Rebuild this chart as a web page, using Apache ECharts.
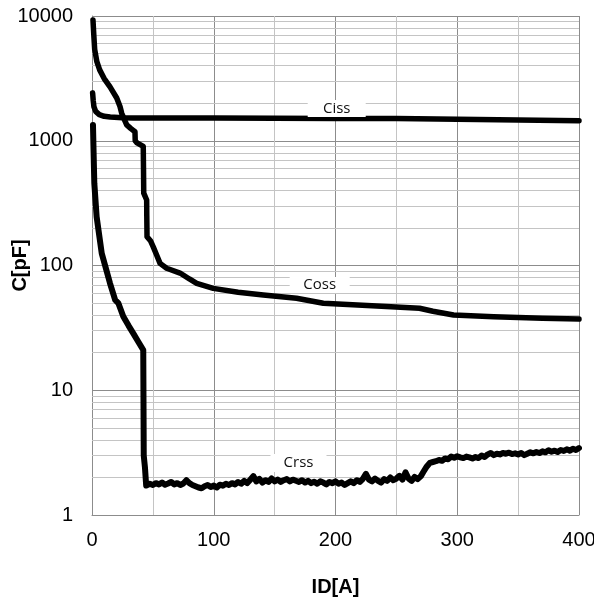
<!DOCTYPE html>
<html>
<head>
<meta charset="utf-8">
<script src="https://cdn.jsdelivr.net/npm/echarts@6/dist/echarts.min.js"></script>
<style>
html,body{margin:0;padding:0;background:#fff;}
#chart{width:594px;height:604px;}
</style>
</head>
<body>
<div id="chart"></div>
<script>
// ---- data ----
const xTicks = [0, 100, 200, 300, 400];
const yTicks = [1, 10, 100, 1000, 10000];
const minorGridValues = [2,3,4,5,6,7,8,9,20,30,40,50,60,70,80,90,200,300,400,500,600,700,800,900,2000,3000,4000,5000,6000,7000,8000,9000];

const ciss = [[0.5,2420],[1,2100],[1.6,1870],[3,1720],[6,1620],[10,1570],[15,1550],[25,1530],[34,1525],[100,1520],[200,1510],[250,1505],[300,1490],[350,1470],[400,1445]];

const coss = [[0.8,9300],[1.5,7000],[2.2,5400],[4,4300],[6.3,3700],[10,3150],[14.8,2700],[20.3,2200],[23,1880],[24.4,1660],[28.5,1340],[32,1250],[35.3,1180],[35.5,1000],[37,960],[42.1,900],[42.3,600],[42.5,380],[44.9,335],[45,250],[45.2,170],[48,158],[50.3,141],[53,122],[55.9,104],[61.3,95],[72.3,87],[80,78],[86,72],[99.6,65.6],[120,61],[140.7,58],[168,54.6],[190,49.8],[230,47.5],[269,45.4],[280,43],[297,40.1],[330,38.8],[370,37.8],[400,37.2]];

const crss = [[0.8,1340],[1.2,900],[1.9,456],[3.8,246],[8,125],[14.8,72],[19,53],[21.6,50],[25.7,39],[30,33],[33.9,28.6],[38,24.5],[42.1,21],[42.5,3],[43.5,2.4],[44.5,1.72],
[45,1.72],[47.5,1.78],[50,1.74],[52.5,1.80],[55,1.76],[57.5,1.82],[60,1.75],[62.5,1.79],[65,1.84],[67.5,1.76],[70,1.80],[72.5,1.74],[75,1.79],[77.5,1.90],[80,1.80],[82.5,1.74],[85,1.70],[87.5,1.66],[90,1.64],[92.5,1.70],[95,1.74],[97.5,1.68],
[100,1.72],[102.5,1.66],[105,1.75],[107.5,1.72],[110,1.78],[112.5,1.74],[115,1.80],[117.5,1.76],[120,1.84],[122.5,1.78],[125,1.88],[127.5,1.80],[130,1.92],[132.5,2.05],[135,1.86],[137.5,1.95],[140,1.82],[142.5,1.90],[145,1.84],[147.5,1.96],
[150,1.86],[152.5,1.92],[155,1.84],[157.5,1.90],[160,1.94],[162.5,1.86],[165,1.92],[167.5,1.88],[170,1.84],[172.5,1.90],[175,1.82],[177.5,1.88],[180,1.80],[182.5,1.85],[185,1.78],[187.5,1.86],[190,1.82],[192.5,1.76],[195,1.84],[197.5,1.80],
[200,1.86],[202.5,1.78],[205,1.82],[207.5,1.74],[210,1.80],[212.5,1.86],[215,1.80],[217.5,1.90],[220,1.84],[222.5,1.95],[225,2.14],[227.5,1.92],[230,1.86],[232.5,1.96],[235,1.88],[237.5,1.82],[240,1.94],[242.5,1.88],[245,2.00],[247.5,1.90],
[250,1.96],[252.5,2.06],[255,1.92],[257.5,2.20],[260,1.96],[262.5,1.88],[265,2.02],[267.5,1.94],[270,2.04],[272.5,2.24],[275,2.45],[277.5,2.62],[280,2.66],[282.5,2.70],[285,2.76],[287.5,2.72],[290,2.84],[292.5,2.80],[295,2.94],[297.5,2.88],
[300,2.96],[302.5,2.90],[305,2.86],[307.5,2.94],[310,2.90],[312.5,2.84],[315,2.92],[317.5,2.86],[320,3.00],[322.5,2.92],[325,3.06],[327.5,3.14],[330,3.02],[332.5,3.10],[335,3.06],[337.5,3.14],[340,3.10],[342.5,3.16],[345,3.08],[347.5,3.12],
[350,3.06],[352.5,3.14],[355,3.02],[357.5,3.10],[360,3.18],[362.5,3.12],[365,3.20],[367.5,3.14],[370,3.24],[372.5,3.18],[375,3.30],[377.5,3.22],[380,3.28],[382.5,3.20],[385,3.32],[387.5,3.26],[390,3.36],[392.5,3.28],[395,3.40],[397.5,3.32],[400,3.44]];

const curveLabels = [
  {name:'Ciss', coord:[201, 1814], size:[58,17]},
  {name:'Coss', coord:[187, 69.8], size:[60,16]},
  {name:'Crss', coord:[169.6, 2.61], size:[56,18]}
];

// ---- chart ----
const FONT = '"Liberation Sans", Arial, sans-serif';
const LABEL_FONT = '"Open Sans", "Noto Sans", sans-serif';
const chart = echarts.init(document.getElementById('chart'), null, {renderer:'canvas'});

function labelMark(l){
  return {
    silent:true, z:6,
    symbol:'rect', symbolSize:l.size,
    itemStyle:{color:'#ffffff'},
    label:{show:true, position:'inside', formatter:l.name, color:'#111', fontFamily:LABEL_FONT, fontSize:15},
    data:[{coord:l.coord}]
  };
}

function lineSeries(name, data, width, mark){
  return {
    name:name, type:'line', data:data, showSymbol:false, symbol:'none', smooth:false,
    lineStyle:{color:'#000', width:width, join:'round', cap:'round'},
    z:3, animation:false, markPoint:mark
  };
}

chart.setOption({
  animation:false,
  backgroundColor:'#fff',
  grid:{left:92, right:15, top:16, bottom:89, containLabel:false, outerBoundsMode:'none'},
  xAxis:{
    type:'value', min:0, max:400, interval:50,
    name:'ID[A]', nameLocation:'middle', nameGap:62, nameMoveOverlap:false,
    nameTextStyle:{fontFamily:FONT, fontSize:20, fontWeight:'bold', color:'#000'},
    axisLine:{show:true, lineStyle:{color:'#8c8c8c', width:1}},
    axisTick:{show:false},
    axisLabel:{margin:15, fontFamily:FONT, fontSize:20, color:'#000',
      formatter:v => xTicks.indexOf(v) >= 0 ? String(v) : ''},
    splitLine:{show:true, lineStyle:{color:['#8c8c8c','#c4c4c4'], width:1}}
  },
  yAxis:{
    type:'log', logBase:10, min:1, max:10000,
    name:'C[pF]', nameLocation:'middle', nameGap:62, nameMoveOverlap:false,
    nameTextStyle:{fontFamily:FONT, fontSize:20, fontWeight:'bold', color:'#000'},
    axisLine:{show:true, lineStyle:{color:'#8c8c8c', width:1}},
    axisTick:{show:false},
    axisLabel:{margin:19, fontFamily:FONT, fontSize:20, color:'#000',
      formatter:v => yTicks.indexOf(Math.round(v)) >= 0 ? String(Math.round(v)) : ''},
    splitLine:{show:true, lineStyle:{color:'#8c8c8c', width:1}}
  },
  series:[
    {
      name:'grid', type:'line', data:[[0,1]], showSymbol:false, symbol:'none',
      lineStyle:{opacity:0}, silent:true, z:1,
      markLine:{
        silent:true, symbol:['none','none'], z:1, animation:false,
        label:{show:false},
        lineStyle:{color:'#c4c4c4', width:1, type:'solid'},
        emphasis:{disabled:true},
        data:minorGridValues.map(v => ({yAxis:v}))
      }
    },
    lineSeries('Ciss', ciss, 5.5, labelMark(curveLabels[0])),
    lineSeries('Coss', coss, 5.5, labelMark(curveLabels[1])),
    lineSeries('Crss', crss, 6, labelMark(curveLabels[2]))
  ]
});
</script>
</body>
</html>
